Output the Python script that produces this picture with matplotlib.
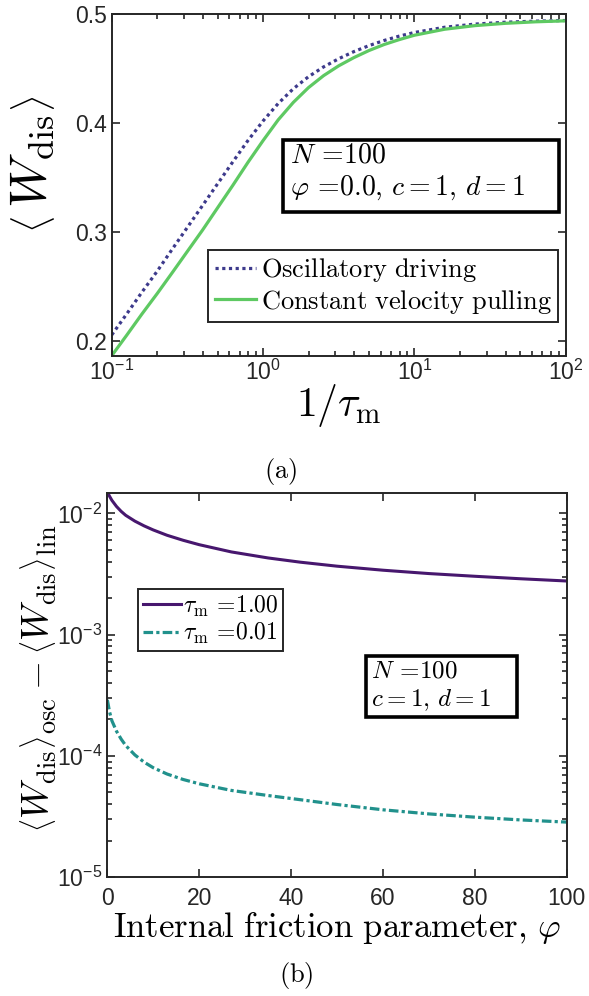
import numpy as np
import matplotlib
matplotlib.use('Agg')
import matplotlib.pyplot as plt
from matplotlib.font_manager import FontProperties
from matplotlib.patches import Rectangle
from matplotlib.ticker import LogLocator, NullFormatter, NullLocator

# tick labels in a Helvetica-like sans, everything else in Computer Modern
plt.rcParams['mathtext.fontset'] = 'custom'
plt.rcParams['mathtext.rm'] = 'Liberation Sans'
plt.rcParams['mathtext.it'] = 'Liberation Sans:italic'
plt.rcParams['mathtext.bf'] = 'Liberation Sans:bold'
plt.rcParams['font.family'] = 'Liberation Sans'

# (a) mean dissipated work vs inverse protocol time
inv_tau = [0.1, 0.126, 0.158, 0.2, 0.251, 0.316, 0.398, 0.501, 0.631, 0.794, 1.0,
           1.259, 1.585, 1.995, 2.512, 3.162, 3.981, 5.012, 6.31, 7.943, 10.0,
           15.85, 25.12, 39.81, 63.1, 100.0]
w_osc = [0.206, 0.2255, 0.245, 0.2645, 0.2845, 0.3045, 0.3245, 0.3445, 0.3645, 0.384,
         0.402, 0.418, 0.4315, 0.4425, 0.4515, 0.459, 0.4655, 0.471, 0.4757, 0.4797,
         0.483, 0.4878, 0.4907, 0.4924, 0.4934, 0.494]
w_lin = [0.187, 0.206, 0.225, 0.244, 0.263, 0.2825, 0.302, 0.3225, 0.343, 0.364,
         0.384, 0.403, 0.419, 0.4325, 0.4435, 0.4525, 0.46, 0.4665, 0.472, 0.4765,
         0.4805, 0.486, 0.4893, 0.4914, 0.4928, 0.4937]

# (b) excess dissipation of oscillatory driving vs internal friction
phi = [0, 0.5, 1, 2, 3, 4, 6, 8, 10, 13, 16.5, 20, 27, 35, 42, 50, 60, 70, 80,
       90, 100]
dw_tau1 = [0.0150, 0.0138, 0.0128, 0.0114, 0.0104, 0.00964, 0.00863, 0.00789, 0.0073,
           0.0066, 0.0060, 0.00552, 0.00481, 0.00429, 0.00396, 0.00367, 0.00340,
           0.00319, 0.00303, 0.00289, 0.00277]
dw_tau001 = [2.9e-4, 2.3e-4, 1.95e-4, 1.6e-4, 1.38e-4, 1.22e-4, 1.02e-4, 8.9e-5,
             8.0e-5, 7.1e-5, 6.4e-5, 5.9e-5, 5.2e-5, 4.72e-5, 4.36e-5, 3.98e-5,
             3.6e-5, 3.33e-5, 3.13e-5, 2.97e-5, 2.85e-5]

c_osc = '#3d3a8c'
c_lin = '#5ec962'
c_tau1 = '#47176e'
c_tau001 = '#21918c'

cm = dict(math_fontfamily='cm')

fig = plt.figure(figsize=(5.89, 9.96), dpi=100)
ax1 = fig.add_axes([0.1897, 0.6429, 0.7708, 0.3431])
ax2 = fig.add_axes([0.1822, 0.1192, 0.7800, 0.3861])

for ax in (ax1, ax2):
    for s in ax.spines.values():
        s.set_linewidth(1.4)
        s.set_color('#262626')
    ax.tick_params(which='both', direction='in', top=True, right=True,
                   width=1.2, color='#262626', labelsize=16.5, labelcolor='#262626')
    ax.tick_params(which='major', length=6)
    ax.tick_params(which='minor', length=3.5)

# --- panel (a)
ax1.plot(inv_tau, w_osc, color=c_osc, lw=2.3, ls=(0, (1, 1.1)), dash_capstyle='butt',
         label=r'$\mathrm{Oscillatory\ driving}$')
ax1.plot(inv_tau, w_lin, color=c_lin, lw=2.3, label=r'$\mathrm{Constant\ velocity\ pulling}$')
ax1.set_xscale('log')
ax1.set_xlim(0.1, 100)
ax1.set_ylim(0.187, 0.5)
ax1.set_yticks([0.2, 0.3, 0.4, 0.5])
ax1.set_yticklabels(['0.2', '0.3', '0.4', '0.5'])
ax1.xaxis.set_minor_locator(LogLocator(base=10, subs=np.arange(2, 10), numticks=10))
ax1.xaxis.set_minor_formatter(NullFormatter())
ax1.set_xticks([0.1, 1, 10, 100])
ax1.set_xticklabels([r'$10^{-1}$', r'$10^{0}$', r'$10^{1}$', r'$10^{2}$'])
ax1.tick_params(axis='x', pad=3)

ax1.set_xlabel(r'$1/\tau_{\rm m}$', fontsize=30, labelpad=-2, **cm)
ax1.set_ylabel(r'$\left\langle\,W_{\rm dis}\right\rangle$', fontsize=37, **cm)
ax1.yaxis.set_label_coords(-0.118, 0.56)

leg1 = ax1.legend(loc='lower right', bbox_to_anchor=(0.984, 0.098),
                  prop=FontProperties(size=19, math_fontfamily='cm'),
                  fancybox=False, edgecolor='#262626', framealpha=1,
                  handlelength=1.55, handletextpad=0.2, borderpad=0.25,
                  labelspacing=0.12, borderaxespad=0)
leg1.get_frame().set_linewidth(1.4)

# parameter box for (a)
ax1.add_patch(Rectangle((0.377, 0.4205), 0.608, 0.2105, transform=ax1.transAxes,
                        fc='white', ec='black', lw=2.6, zorder=5))
ax1.text(0.392, 0.585, r'$N\,=\!100$', transform=ax1.transAxes, fontsize=20,
         va='center', ha='left', zorder=6, **cm)
ax1.text(0.392, 0.49, r'$\varphi\,=\!0.0,\,c=1,\,d=1$', transform=ax1.transAxes,
         fontsize=20, va='center', ha='left', zorder=6, **cm)

fig.text(0.477, 0.527, r'$\mathrm{(a)}$', ha='center', va='center', fontsize=19, **cm)

# --- panel (b)
ax2.plot(phi, dw_tau1, color=c_tau1, lw=2.2, label=r'$\tau_{\rm m}\,=\!1.00$')
ax2.plot(phi, dw_tau001, color=c_tau001, lw=2.3, ls=(0, (3, 1, 1, 1)),
         dash_capstyle='butt', label=r'$\tau_{\rm m}\,=\!0.01$')
ax2.set_yscale('log')
ax2.set_xlim(0, 100)
ax2.set_ylim(1e-5, 0.0148)
ax2.set_xticks([0, 20, 40, 60, 80, 100])
ax2.xaxis.set_minor_locator(NullLocator())
ax2.yaxis.set_minor_locator(LogLocator(base=10, subs=np.arange(2, 10), numticks=10))
ax2.yaxis.set_minor_formatter(NullFormatter())
ax2.set_yticks([1e-5, 1e-4, 1e-3, 1e-2])
ax2.set_yticklabels([r'$10^{-5}$', r'$10^{-4}$', r'$10^{-3}$', r'$10^{-2}$'])
ax2.tick_params(axis='x', pad=7)

ax2.set_xlabel(r'$\mathrm{Internal\ friction\ parameter},\,\varphi$', fontsize=25,
               labelpad=0, **cm)
ax2.set_ylabel(r'$\left\langle W_{\rm dis}\right\rangle_{\rm osc} - '
               r'\left\langle W_{\rm dis}\right\rangle_{\rm lin}$',
               fontsize=27, **cm)
ax2.yaxis.set_label_coords(-0.107, 0.518)

leg2 = ax2.legend(loc='upper left', bbox_to_anchor=(0.067, 0.75),
                  prop=FontProperties(size=17, math_fontfamily='cm'),
                  fancybox=False, edgecolor='#262626', framealpha=1,
                  handlelength=1.6, handletextpad=0.1, borderpad=0.2,
                  labelspacing=0.12, borderaxespad=0)
leg2.get_frame().set_linewidth(1.4)

# parameter box for (b)
ax2.add_patch(Rectangle((0.563, 0.417), 0.329, 0.158, transform=ax2.transAxes,
                        fc='white', ec='black', lw=2.6, zorder=5))
ax2.text(0.575, 0.537, r'$N\,=\!100$', transform=ax2.transAxes, fontsize=18,
         va='center', ha='left', zorder=6, **cm)
ax2.text(0.575, 0.46, r'$c=1,\,d=1$', transform=ax2.transAxes, fontsize=18,
         va='center', ha='left', zorder=6, **cm)

fig.text(0.503, 0.021, r'$\mathrm{(b)}$', ha='center', va='center', fontsize=19, **cm)

fig.savefig('out.png', dpi=100)
